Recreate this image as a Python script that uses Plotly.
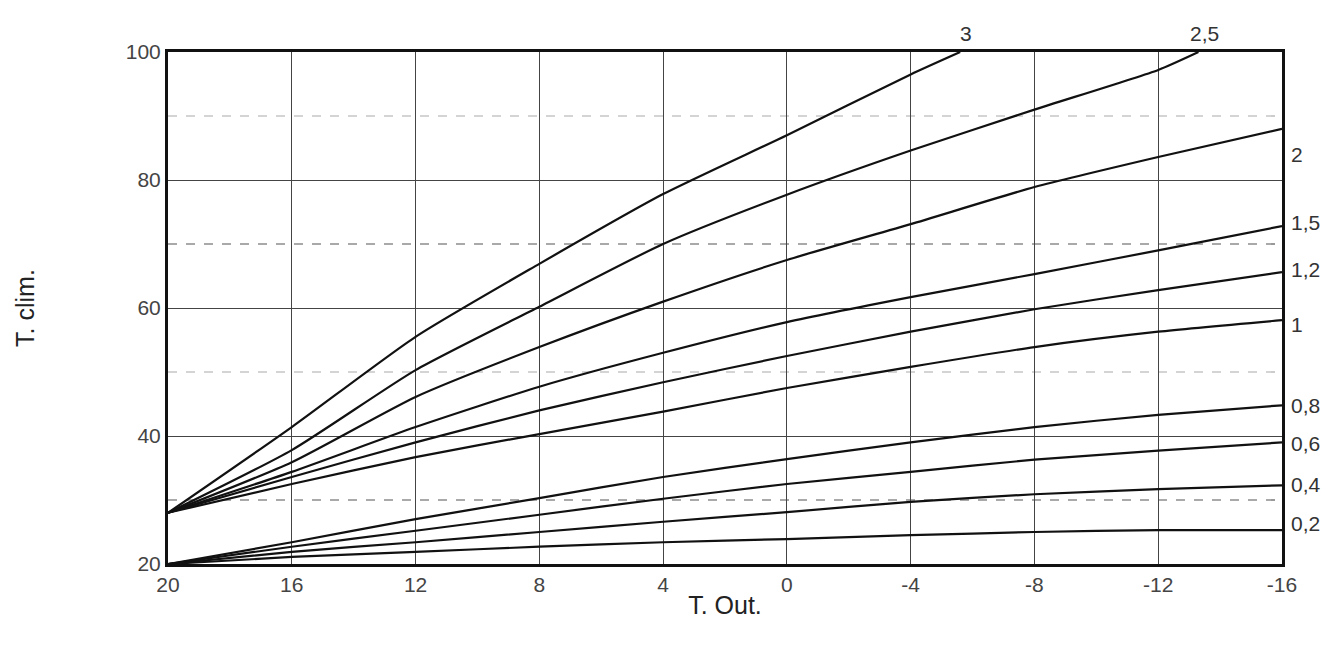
import plotly.graph_objects as go

x_ticks = [20, 16, 12, 8, 4, 0, -4, -8, -12, -16]
x_up = [20, 16, 12, 8, 4, 0, -4, -8, -12, -16]

c3_x = [20, 16, 12, 8, 4, 0, -4, -5.6]
c3_y = [28, 41.4, 55.5, 66.9, 77.8, 87, 96.5, 100]
c25_x = [20, 16, 12, 8, 4, 0, -4, -8, -12, -13.3]
c25_y = [28, 37.8, 50.3, 60.2, 70, 77.7, 84.6, 91, 97.2, 100]
c2_y = [28, 35.9, 46.1, 53.9, 61, 67.5, 73.1, 78.9, 83.6, 88]
c15_y = [28, 34.4, 41.4, 47.7, 53, 57.8, 61.7, 65.3, 69, 72.8]
c12_y = [28, 33.6, 39, 44, 48.4, 52.5, 56.3, 59.8, 62.8, 65.6]
c1_y = [28, 32.5, 36.7, 40.3, 43.8, 47.5, 50.8, 53.9, 56.3, 58.1]
c08_y = [20, 23.4, 27, 30.3, 33.6, 36.4, 39, 41.4, 43.3, 44.8]
c06_y = [20, 22.7, 25.2, 27.7, 30.2, 32.5, 34.4, 36.3, 37.7, 39]
c04_y = [20, 21.9, 23.4, 25, 26.6, 28.1, 29.7, 30.9, 31.7, 32.3]
c02_y = [20, 21.1, 21.9, 22.7, 23.4, 23.9, 24.5, 25, 25.3, 25.3]

right_labels = ["2", "1,5", "1,2", "1", "0,8", "0,6", "0,4", "0,2"]
right_label_y = [84, 73.4, 66, 57.5, 44.8, 38.9, 32.5, 26.3]
top_labels = ["3", "2,5"]
top_label_x = [-5.8, -13.5]

series = [(c3_x, c3_y), (c25_x, c25_y)] + [(x_up, s) for s in
          [c2_y, c15_y, c12_y, c1_y, c08_y, c06_y, c04_y, c02_y]]

fig = go.Figure()
for xs, ys in series:
    fig.add_trace(go.Scatter(x=xs, y=ys, mode="lines",
                             line=dict(color="#111", width=2.2, shape="spline", smoothing=0.6),
                             showlegend=False, hoverinfo="skip"))

shapes = []
for yv, col in [(30, "#555"), (50, "#aaa"), (70, "#555"), (90, "#aaa")]:
    shapes.append(dict(type="line", xref="x", yref="y", x0=20, x1=-16, y0=yv, y1=yv,
                       line=dict(color=col, width=1.2, dash="dash"), layer="below"))
fig.update_layout(shapes=shapes)

anns = []
for t, yv in zip(right_labels, right_label_y):
    anns.append(dict(x=1.006, xref="paper", y=yv, yref="y", text=t, showarrow=False,
                     xanchor="left", font=dict(size=21, color="#333")))
for t, xv in zip(top_labels, top_label_x):
    anns.append(dict(x=xv, xref="x", y=1.01, yref="paper", text=t, showarrow=False,
                     yanchor="bottom", font=dict(size=21, color="#333")))
fig.update_layout(annotations=anns)

fig.update_layout(
    width=1342, height=645, plot_bgcolor="white", paper_bgcolor="white",
    margin=dict(l=160, r=68, t=44, b=89),
    font=dict(family="Liberation Sans, Arial", color="#333"),
    xaxis=dict(range=[20, -16], tickvals=x_ticks, ticktext=[str(v) for v in x_ticks],
               showgrid=True, gridcolor="#444", gridwidth=1, zeroline=False,
               showline=True, linecolor="#111", linewidth=3, mirror=True,
               tickfont=dict(size=21, color="#444"),
               title=dict(text="T. Out.", font=dict(size=25, color="#222"), standoff=2)),
    yaxis=dict(range=[20, 100], tickvals=[20, 40, 60, 80, 100],
               showgrid=True, gridcolor="#444", gridwidth=1, zeroline=False,
               showline=True, linecolor="#111", linewidth=3, mirror=True,
               tickfont=dict(size=21, color="#444"),
               title=dict(text="T. clim.", font=dict(size=25, color="#222"), standoff=85)),
)
fig.write_html("out.html")
